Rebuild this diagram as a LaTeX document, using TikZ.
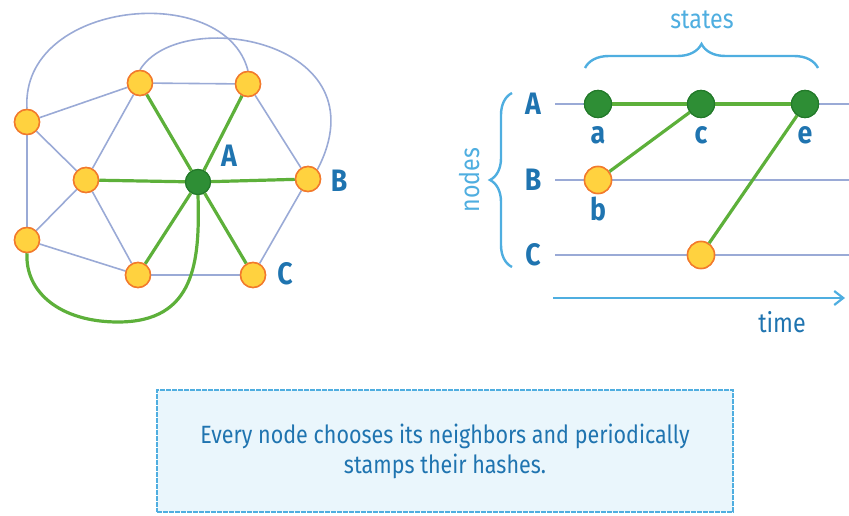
\documentclass[tikz,border=0pt]{standalone}
\usepackage{fontspec}
\setmainfont{Fira Sans}
\newfontfamily\cond{Fira Sans}[FakeStretch=0.86]
\usetikzlibrary{decorations.pathreplacing,arrows.meta}
\definecolor{tblue}{HTML}{1F74B0}
\definecolor{eblue}{HTML}{9AAAD6}
\definecolor{egreen}{HTML}{5DB03A}
\definecolor{gfill}{HTML}{2E8E35}
\definecolor{gdraw}{HTML}{237A2A}
\definecolor{yfill}{HTML}{FFD23F}
\definecolor{ydraw}{HTML}{F27A2C}
\definecolor{lblue}{HTML}{4FAEE0}
\definecolor{boxfill}{HTML}{EAF6FC}
\tikzset{
  ynode/.style={circle,minimum size=25pt,inner sep=0pt,fill=yfill,draw=ydraw,line width=1.5pt},
  gnode/.style={circle,minimum size=25pt,inner sep=0pt,fill=gfill,draw=gdraw,line width=1.2pt},
  bedge/.style={draw=eblue,line width=1.6pt},
  gedge/.style={draw=egreen,line width=3.2pt},
  lbl/.style={text=tblue,font=\cond\bfseries\fontsize{31}{34}\selectfont,inner sep=0pt},
  word/.style={text=lblue,font=\cond\fontsize{27}{30}\selectfont,inner sep=0pt},
  rowline/.style={draw=eblue,line width=1.2pt},
  bracestyle/.style={draw=lblue,line width=2.4pt,decorate},
}
\begin{document}
\begin{tikzpicture}[x=1pt,y=-1pt]
\useasboundingbox (0,0) rectangle (849,516);
% ---- left graph nodes
\node[ynode] (T1) at (140,83) {};
\node[ynode] (T2) at (248,84) {};
\node[ynode] (L1) at (27,122) {};
\node[ynode] (M) at (86,180) {};
\node[gnode] (A) at (198,182) {};
\node[ynode] (B) at (308,179) {};
\node[ynode] (L2) at (27,240) {};
\node[ynode] (BL) at (138,275) {};
\node[ynode] (C) at (253,275) {};
% blue edges
\path[bedge] (T1) -- (T2);
\path[bedge] (T1) -- (L1);
\path[bedge] (T1) -- (M);
\path[bedge] (T2) -- (B);
\path[bedge] (L1) -- (M);
\path[bedge] (L1) -- (L2);
\path[bedge] (M) -- (L2);
\path[bedge] (M) -- (BL);
\path[bedge] (L2) -- (BL);
\path[bedge] (BL) -- (C);
\path[bedge] (C) -- (B);
\path[bedge] (L1.north) .. controls (20,0) and (225,-20) .. (T2.north);
\path[bedge] (T1.north) .. controls (180,5) and (385,40) .. (B.north east);
% green edges
\path[gedge] (A) -- (T1);
\path[gedge] (A) -- (T2);
\path[gedge] (A) -- (M);
\path[gedge] (A) -- (B);
\path[gedge] (A) -- (BL);
\path[gedge] (A) -- (C);
\coordinate (gbot) at (118,322);
\path[gedge] (A.south) .. controls (200,262) and (195,322) .. (gbot) .. controls (60,322) and (25,292) .. (L2.south);
% redraw nodes on top
\node[ynode] at (T1) {};
\node[ynode] at (T2) {};
\node[ynode] at (L1) {};
\node[ynode] at (M) {};
\node[gnode] at (A) {};
\node[ynode] at (B) {};
\node[ynode] at (L2) {};
\node[ynode] at (BL) {};
\node[ynode] at (C) {};
\node[lbl] (labA) at (229,156) {A};
\node[lbl] (labB) at (339,181) {B};
\node[lbl] (labC) at (285,274) {C};
% ---- right panel
\node[word] (states) at (702,20) {states};
\coordinate (sb1) at (585,68);
\coordinate (sb2) at (818,68);
\path[bracestyle,decoration={brace,amplitude=24pt}] (sb1) -- (sb2);
\coordinate (nb1) at (512,267);
\coordinate (nb2) at (512,93);
\path[bracestyle,decoration={brace,amplitude=22pt}] (nb1) -- (nb2);
\node[word,rotate=90] (nodesw) at (470,180) {nodes};
\node[lbl] (RA) at (533,104) {A};
\node[lbl] (RB) at (533,180) {B};
\node[lbl] (RC) at (533,255) {C};
\coordinate (la1) at (555,104); \coordinate (la2) at (849,104);
\coordinate (lb1) at (555,180); \coordinate (lb2) at (849,180);
\coordinate (lc1) at (555,255); \coordinate (lc2) at (849,255);
\path[rowline] (la1) -- (la2);
\path[rowline] (lb1) -- (lb2);
\path[rowline] (lc1) -- (lc2);
\node[gnode,minimum size=27pt] (na) at (598,104) {};
\node[gnode,minimum size=27pt] (nc) at (701,104) {};
\node[gnode,minimum size=27pt] (ne) at (805,104) {};
\node[ynode,minimum size=27pt] (nb) at (598,180) {};
\node[ynode,minimum size=27pt] (ncc) at (701,255) {};
\path[gedge] (na) -- (nc);
\path[gedge] (nc) -- (ne);
\path[gedge] (nb) -- (nc);
\path[gedge] (ncc) -- (ne);
\node[gnode,minimum size=27pt] at (na) {};
\node[gnode,minimum size=27pt] at (nc) {};
\node[gnode,minimum size=27pt] at (ne) {};
\node[ynode,minimum size=27pt] at (nb) {};
\node[ynode,minimum size=27pt] at (ncc) {};
\node[lbl,anchor=base] (la) at (598,144) {a};
\node[lbl,anchor=base] (lc) at (701,144) {c};
\node[lbl,anchor=base] (le) at (805,144) {e};
\node[lbl,anchor=base] (lb) at (598,220) {b};
\coordinate (t1) at (553,298);
\coordinate (t2) at (845,298);
\draw[lblue,line width=2.2pt,-{Straight Barb[length=9pt,width=14pt]}] (t1) -- (t2);
\node[word,text=tblue] (time) at (782,322) {time};
% ---- caption box
\node[draw=lblue,fill=boxfill,line width=1.8pt,dash pattern=on 5pt off 1pt,minimum width=576pt,minimum height=122pt,inner sep=0pt] (box) at (445,451) {};
\node[text=tblue,align=center,font=\cond\fontsize{25}{30}\selectfont] (cap) at (445,451) {Every node chooses its neighbors and periodically\\stamps their hashes.};
\end{tikzpicture}
\end{document}
